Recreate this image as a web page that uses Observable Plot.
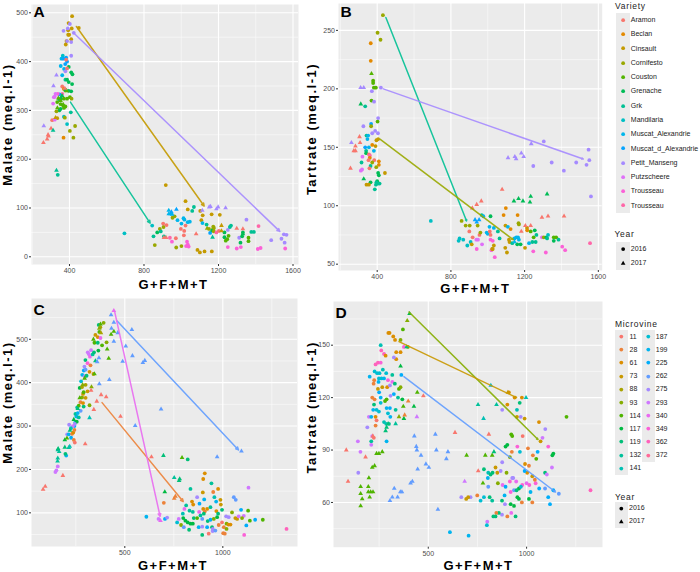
<!DOCTYPE html>
<html><head><meta charset="utf-8">
<script src="https://cdn.jsdelivr.net/npm/d3@7"></script>
<script src="https://cdn.jsdelivr.net/npm/@observablehq/plot@0.6"></script>
<style>
html,body{margin:0;padding:0;background:#fff;}
#page{position:relative;width:700px;height:572px;overflow:hidden;font-family:"Liberation Sans",Arial,sans-serif;}
#page>div.p{position:absolute;}
.axt{letter-spacing:1.5px;}
.lg{position:absolute;white-space:nowrap;font-size:7px;color:#222;line-height:12px;}
.lt{position:absolute;white-space:nowrap;font-size:8.5px;color:#222;letter-spacing:.7px;line-height:12px;}
.lk{position:absolute;background:#ebebeb;}
.lk svg{position:absolute;left:0;top:0;}
</style></head><body><div id="page"></div>
<script>
const varieties=["Aramon","Beclan","Cinsault","Cornifesto","Couston","Grenache","Grk","Mandilaria","Muscat_Alexandrie","Muscat_d_Alexandrie","Petit_Manseng","Putzscheere","Trousseau","Trousseau"];
const varietyColors=["#F8766D","#E38900","#C49A00","#99A800","#53B400","#00BC56","#00C094","#00BFC4","#00B6EB","#06A4FF","#A58AFF","#DF70F8","#FB61D7","#FF66A8"];
const microvines=["11","28","61","73","88","93","114","117","119","132","141","187","199","225","262","275","293","340","349","362","372"];
const microvineColors=["#F8766D","#EC8239","#DB8E00","#C99800","#A9A300","#85AD00","#4FB400","#00BA42","#00BF78","#00C19A","#00C0B3","#00BED2","#00B4EF","#00ADFA","#619CFF","#A58AFF","#CF78FF","#E96AF1","#FB61D7","#FF62BC","#FF6A98"];
const years=["2016","2017"];

const A_circles=[[414,493,2],[395,479,2],[450,469,2],[412,468,2],[393,464,2],[393,455,2],[380,435,2],[409,446,2],[384,442,2],[398,455,2],
[368,463,10],[402,477,10],[391,468,10],[423,459,10],[387,442,10],[409,440,10],[409,412,10],
[364,412,7],[357,406,8],[382,408,9],[353,391,8],[377,395,9],[371,385,8],[387,400,9],[361,372,8],[368,406,9],
[361,349,0],[370,344,1],[378,341,2],[361,334,13],[346,333,9],[337,334,12],[325,334,11],[316,327,11],[321,328,11],[312,314,11],[334,317,4],[345,323,5],[355,324,5],[370,324,4],[387,324,4],[402,327,4],[411,324,3],[409,339,5],[396,340,5],[378,342,5],[352,313,4],[366,310,4],[378,308,4],[370,305,4],[352,303,5],[345,300,5],[330,298,3],[370,287,7],[375,285,3],[334,284,2],[307,280,0],[321,281,11],[378,363,6],[387,363,5],[396,358,5],[414,354,5],[409,378,5],[416,374,5],[396,389,5],[387,386,0],[378,380,10],[382,404,0],
[387,272,7],[430,268,3],[402,258,3],[368,244,1],[421,244,3],[337,168,6],[407,296,6],
[917,147,2],[1023,114,2],[1035,97,2],[1102,94,2],[1115,85,2],[1163,87,2],[1207,86,2],[1108,75,2],[1172,62,3],[1172,58,3],[695,48,7],[844,64,7],[851,42,6],[858,24,3],[871,50,5],[885,57,3],[890,52,6],[905,61,3],[903,68,0],[921,65,0],[907,42,6],[939,39,13],[950,31,12],[971,38,0],[973,19,3],[1001,22,3],[1014,44,0],[1016,53,0],[1023,64,0],[998,57,0],[1001,68,8],[1012,79,8],[1017,76,8],[1035,71,8],[1046,72,8],[980,75,8],[953,80,3],[964,83,3],[1031,31,12],[1026,22,12],[1040,21,12],[1035,25,12],[1087,14,2],[1100,9,2],[1125,11,2],[1164,11,2],[1059,94,6],[1068,102,6],
[1114,69,8],[1136,66,6],[1149,57,3],[1155,49,9],[1166,54,5],[1175,59,3],[1175,52,3],[1189,50,13],[1202,53,0],[1232,50,5],[1250,55,10],[1250,20,12],[1298,17,12],[1320,20,12],[1232,40,5],[1239,33,4],[1254,43,4],[1247,36,4],[1261,61,6],[1267,64,6],[1311,39,10],[1318,29,5],[1327,42,5],[1331,50,5],[1361,39,4],[1361,32,4],[1350,76,10],[1376,51,6],[1390,51,6],[1415,63,13],[1411,16,12],[1426,18,12],[1483,34,10],[1538,37,10],[1555,29,10],[1551,46,10],[1565,45,10],[1558,17,12]];
const A_triangles=[[260,234,0],[280,241,0],[285,250,0],[287,247,0],[301,263,0],[262,268,10],[312,259,6],[330,177,6],[314,350,10],[330,372,10],[352,320,4],[366,312,4],[340,325,4],[385,340,4],[375,345,0],[335,305,4],[360,330,5],[325,285,2],
[1113,95,10],[1150,102,10],[1157,103,10],[1189,98,10],[1198,102,10],[1238,100,10],[933,95,8],[947,92,9],[942,88,9],[933,88,8],[951,87,8],[974,97,9],[1080,47,0],[1216,64,2],[1216,53,2],[1298,58,0],[1331,57,0],[1168,40,6],[907,39,0],[919,39,0],[1139,58,3],[1331,47,5]];
const A_lines=[[437,472,1123,104,2],[427,457,1529,52,10],[405,317,833,69,6]];

const B_circles=[[431,263,3],[402,248,3],[418,242,3],[365,239,1],[365,224,1],[382,201,4],[393,201,4],[420,201,10],[371,198,10],[378,207,4],[378,205,4],[369,190,4],[383,189,10],[335,185,6],[325,168,10],[405,175,10],[402,172,4],[367,170,9],[367,168,3],[389,164,10],[373,162,10],[404,162,10],[396,156,2],[405,157,2],[342,160,6],[351,160,8],[347,157,8],[373,152,1],[391,151,2],[335,150,9],[355,150,8],[382,147,8],[340,147,6],[340,145,5],[355,144,0],[360,143,13],[320,142,11],[360,141,1],[353,139,0],[384,139,0],[409,138,1],[409,135,1],[315,137,6],[373,137,3],[364,134,6],[395,133,3],[358,132,0],[311,130,11],[318,131,11],[442,128,2],[405,128,5],[409,126,5],[400,121,5],[413,119,6],[396,120,6],[404,119,6],[393,118,6],[364,120,5],[342,118,2],[355,118,2],[387,114,6],
[691,87,7],[858,87,3],[880,83,3],[902,83,3],[842,70,7],[847,72,7],[867,71,7],[889,66,7],[900,78,0],[907,69,7],[918,73,0],[913,67,2],[940,63,12],[938,71,11],[947,71,11],[945,83,3],[955,75,0],[960,77,3],[969,67,11],[967,92,6],[976,91,8],[994,77,8],[1000,76,8],[1009,82,8],[1015,91,5],[1011,78,0],[1015,75,0],[1015,71,12],[1027,70,12],[1020,62,12],[1024,63,2],[1033,66,2],[1027,63,2],[1038,56,12],[1033,81,8],[1055,78,6],[1064,72,6],[1086,92,1],[1098,98,1],[1096,83,2],[1095,64,2],[1104,60,2],[1109,82,8],[1124,80,1],[1115,71,2],[1118,69,2],[1133,68,6],[1145,72,8],[1155,73,8],[1164,73,8],[1169,71,8],[1162,92,1],[1167,85,3],[1169,84,3],[1160,67,5],[1178,67,5],[1202,64,2],[1213,81,2],[1214,79,1],[1233,78,4],[1255,79,5],[1224,68,8],[1242,69,6],[1260,69,6],[1249,73,4],[1264,75,6],[1247,61,12],[1294,73,11],[1315,60,12],[1304,73,3],[1318,73,5],[1327,75,7],[1322,72,6],[1358,73,4],[1371,73,4],[1358,70,5],[1384,71,6],[1404,65,12],[1420,62,12],[1555,68,13],
[1304,155,10],[1247,134,10],[1347,137,10],[1413,130,10],[1480,137,10],[1536,135,10],[1551,139,10],[1547,148,10],[1560,108,10]];
const B_triangles=[[255,132,0],[260,154,10],[282,151,0],[273,147,0],[282,147,0],[304,159,0],[307,154,0],[310,201,10],[327,201,10],[311,187,5],[369,213,4],[327,123,5],
[916,98,0],[940,101,0],[965,104,0],[1078,114,0],[1110,141,10],[1147,142,10],[1154,140,10],[1182,145,10],[1195,142,10],[1236,153,10],[1142,104,5],[1167,106,5],[1191,104,5],[1233,108,5],[1229,103,5],[1322,110,5],[1204,83,0],[1233,83,0],[1294,90,0],[1327,91,0],[1414,91,0],[1182,78,0],[931,88,9],[953,88,9],[940,86,9],[1145,69,8]];
const B_lines=[[447,261,885,87,6],[433,200,1518,140,10],[415,157,1138,71,3]];

const C_circles=[[146,194,16],[151,198,16],[158,207,16],[201,232,12],[197,236,8],[206,281,15],[214,281,12],[216,303,15],[226,273,13],[231,282,1],[237,285,2],[243,291,1],[243,300,12],[248,309,11],[253,322,12],[248,328,9],[257,343,9],[265,347,6],[274,355,1],[287,353,2],[282,366,5],[270,388,7],[282,390,4],[287,374,3],[277,403,11],[291,428,13],[283,418,12],[294,437,15],[299,452,8],[311,470,16],[316,466,16],[328,475,16],[322,460,17],[336,465,9],[343,470,8],[365,474,7],[345,492,6],[362,492,8],[384,486,6],[407,493,5],[350,510,3],[362,505,2],[376,503,17],[367,533,8],[392,538,5],[375,528,4],[370,517,6],[325,440,1],[310,445,18],[320,425,2],[340,420,3],[300,430,14],[295,415,15],[305,416,8],[300,395,4],[310,380,3],[290,378,6],[300,365,3],[320,348,5],[290,345,8],[265,320,9],[255,310,7],[245,305,15],[235,300,16],[225,295,10],[260,330,12],[275,335,14],[240,268,1],[245,262,0],
[610,91,12],[672,86,16],[705,86,13],[716,89,15],[767,78,11],[775,86,16],[798,88,7],[821,223,8],[699,123,1],[835,155,9],[908,191,2],[900,178,2],[942,168,9],[976,155,2],[951,148,1],[898,147,3],[1131,158,16],[988,130,3],[990,119,3],[957,136,10],[1056,136,14],[1066,130,14],[869,136,15],[881,121,13],[843,126,2],[849,119,2],[905,131,12],[966,126,12],[900,109,2],[813,117,9],[804,109,17],[796,98,10],[830,105,9],[847,102,9],[879,102,17],[908,103,1],[903,98,8],[920,109,2],[937,113,9],[967,104,2],[996,107,8],[1047,101,5],[1093,107,13],[1129,105,6],[852,88,8],[869,88,6],[886,94,9],[895,86,14],[809,82,7],[821,78,7],[835,75,7],[847,75,7],[787,72,5],[801,67,14],[828,61,8],[877,67,12],[895,68,15],[895,49,8],[928,52,0],[923,81,8],[937,84,13],[920,67,13],[945,67,8],[949,63,15],[948,58,15],[962,59,14],[954,86,5],[971,90,7],[976,98,8],[979,72,1],[996,78,0],[1005,67,1],[1002,53,1],[1010,52,1],[1019,75,5],[1019,63,5],[1029,73,2],[1039,73,2],[1017,92,15],[1030,90,15],[1064,88,3],[1073,86,3],[1081,92,16],[1107,93,16],[1098,88,5],[1120,71,13],[1109,49,18],[1138,82,6],[1165,84,13],[1204,84,6],[1325,63,19]];
const C_triangles=[[83,154,0],[94,161,0],[184,186,0],[298,259,0],[157,219,9],[158,226,9],[158,245,9],[165,241,9],[160,248,8],[194,251,8],[214,250,9],[219,253,10],[194,268,7],[205,272,6],[220,290,8],[240,315,7],[260,340,8],[270,365,6],[285,395,5],[295,410,6],[330,390,5],[320,319,10],[345,420,6],[350,450,8],[340,500,6],[370,525,5],[378,515,4],[376,535,6],[418,456,6],[410,477,6],[444,518,6],[430,511,6],[328,382,0],[379,372,0],[405,367,0],[357,357,0],[342,338,0],[478,322,0],[636,229,0],
[430,556,14],[432,525,14],[444,495,14],[536,522,14],[464,515,14],[505,484,14],[539,462,14],[489,449,14],[592,446,14],[602,451,14],[359,448,14],[368,457,14],[370,397,14],[421,407,14],[685,339,14],[553,301,14],[971,229,14],[1095,242,14],[444,539,14],
[697,232,8],[792,227,6],[752,181,9],[780,178,8],[777,174,8],[704,148,7],[752,133,1],[758,138,1],[444,566,17],[682,82,17]];
const C_lines=[[461,542,1080,245,14],[384,354,798,126,1],[449,562,680,92,17]];

const D_circles=[[258,150,10],[261,147,19],[275,145,19],[283,144,2],[297,157,2],[303,157,2],[322,155,2],[331,153,2],[359,153,5],[371,159,6],[376,149,18],[396,149,5],[337,146,2],[359,146,2],[337,142,2],[325,143,15],[232,139,19],[244,140,19],[258,140,18],
[202,132,12],[227,135,11],[240,134,11],[252,134,11],[269,136,10],[286,134,11],[317,133,9],[363,133,13],[262,131,11],[249,131,11],[225,130,1],[222,128,1],[247,129,12],[275,131,12],[295,130,18],[317,129,17],[291,126,2],[305,127,15],[330,128,8],[351,125,6],[359,126,5],[244,125,3],[266,126,3],[258,120,12],[250,123,13],[227,119,1],[215,120,1],[280,118,6],[288,119,6],[308,121,15],[325,122,13],[346,120,9],[368,119,7],[258,117,11],[224,116,8],[220,113,12],[237,113,11],[249,112,11],[288,114,12],[305,114,13],[334,113,9],[295,111,11],[307,109,12],[198,109,16],[210,109,12],[190,103,15],[232,109,2],[237,107,0],[232,104,1],[275,106,10],[286,105,10],[300,105,9],[215,98,16],[223,97,0],[210,95,9],[210,93,16],[288,95,12],[142,95,16],[155,89,16],[144,77,15],
[1164,65,14],[1119,59,13],[1110,63,13],[1136,67,13],[1064,68,13],[1094,68,14],[1020,66,12],[1325,67,19],[1203,109,6],[1063,106,2],[1095,102,15],[1071,95,3],[1081,97,16],[1110,92,18],[1131,87,7],[1136,88,7],[1129,80,16],[1094,77,8],[1103,76,16],[1056,89,13],[1049,85,6],[1007,91,1],[980,98,0],[922,99,6],[927,98,6],[893,92,7],[902,93,7],[953,92,18],[925,89,1],[915,86,5],[966,89,11],[1032,87,1],[992,82,2],[1012,81,1],[1003,77,2],[1029,75,3],[990,78,13],[1046,71,18],[1042,73,1],[1000,71,17],[1014,70,18],[978,70,18],[947,72,17],[927,74,15],[898,77,5],[876,83,15],[868,78,15],[842,80,3],[851,77,3],[827,77,8],[805,77,10],[817,76,8],[783,79,8],[803,74,12],[854,71,5],[878,70,17],[915,72,18],[932,74,15],[893,69,13],[936,67,14],[961,68,7],[971,69,11],[949,67,8],[919,66,18],[888,64,12],[953,63,7],[961,62,7],[1012,62,7],[976,60,1],[1029,60,1],[875,61,8],[825,61,9],[812,63,8],[805,69,14],[766,61,11],[783,63,11],[749,64,1],[715,63,15],[703,63,3],[693,62,3],[668,63,15],[610,43,12],[705,41,12],[944,52,8],[902,52,1],[919,59,7],[936,58,7],[890,59,15],[922,54,17],[875,53,15],[859,54,8],[846,54,1],[842,52,8],[831,52,8],[800,49,16],[798,47,11],[876,113,15],[902,116,2],[976,120,2],[910,123,2],[951,113,10],[965,117,8],[951,109,3],[970,109,15],[990,108,3],[939,120,2]];
const D_triangles=[[156,58,6],[164,62,6],[156,65,6],[156,69,6],[195,69,6],[198,74,6],[195,66,6],[207,66,6],[219,66,6],[202,63,6],[215,80,6],[227,81,6],[237,88,6],[249,88,6],[266,89,6],[283,101,8],[288,103,8],[296,105,8],[334,105,9],[83,90,0],[92,72,0],[181,86,0],[218,98,0],[636,100,0],[808,99,0],[754,78,0],[685,72,16],
[359,138,7],[351,109,5],[376,108,7],[373,115,6],[380,110,1],[398,118,1],[427,115,7],[444,123,6],[442,109,16],[475,121,0],[393,164,5],[405,168,7],[390,149,8],
[305,61,14],[317,63,14],[327,68,14],[344,63,14],[358,66,14],[366,66,14],[410,71,14],[419,72,14],[429,98,14],[439,92,14],[442,90,14],[463,87,14],[446,79,14],[488,82,14],[503,80,14],[536,99,14],[541,90,14],[592,85,14],[600,89,14],[549,56,14],
[753,116,9],[847,116,9],[781,108,10],[818,127,11],[997,120,10],[695,87,6],[790,87,6],[825,87,6],[834,89,8],[778,71,6],[905,123,3]];
const D_lines=[[402,169,1058,96,5],[351,152,949,120,3],[376,132,1147,66,14]];

const ticks1600=[400,800,1200,1600], minor1600=[200,600,1000,1400];
const ticks500=[500,1000], minor500=[250,750,1250];
const ticksMalateA=[0,100,200,300,400,500], minorMalateA=[50,150,250,350,450];
const ticksTartB=[50,100,150,200,250], minorTartB=[75,125,175,225];
const ticksMalateC=[100,200,300,400,500], minorMalateC=[50,150,250,350,450,550];
const ticksTartD=[60,90,120,150], minorTartD=[45,75,105,135,165];

function panel(o){
  const c={type:"ordinal",domain:d3.range(o.colors.length),range:o.colors};
  const plot=Plot.plot({
    width:o.w,height:o.h,marginLeft:o.m[0],marginRight:o.m[1],marginTop:o.m[2],marginBottom:o.m[3],
    style:{background:"transparent",overflow:"visible",fontFamily:'"Liberation Sans",Arial,sans-serif'},
    x:{domain:o.xd,label:null},y:{domain:o.yd,label:null},color:c,
    marks:[
      Plot.frame({fill:"#ebebeb",stroke:null}),
      Plot.ruleX(o.xminor,{stroke:"#fff",strokeWidth:.5}),
      Plot.ruleY(o.yminor,{stroke:"#fff",strokeWidth:.5}),
      Plot.ruleX(o.xticks,{stroke:"#fff",strokeWidth:1.1}),
      Plot.ruleY(o.yticks,{stroke:"#fff",strokeWidth:1.1}),
      Plot.axisX(o.xticks,{tickSize:2,tickPadding:1.5,fontSize:7,color:"#4d4d4d",stroke:"#333",label:null,tickFormat:d=>String(d)}),
      Plot.axisY(o.yticks,{tickSize:2,tickPadding:1.5,fontSize:7,color:"#4d4d4d",stroke:"#333",label:null,tickFormat:d=>String(d)}),
      Plot.dot(o.circles,{x:"0",y:"1",fill:"2",r:1.9,symbol:"circle",stroke:"none"}),
      Plot.dot(o.triangles,{x:"0",y:"1",fill:"2",r:1.75,symbol:"triangle",stroke:"none"}),
      Plot.arrow(o.lines,{x1:"0",y1:"1",x2:"2",y2:"3",stroke:"4",strokeWidth:1.5,headLength:o.head,headAngle:50,opacity:.9}),
      Plot.text([o.tag],{frameAnchor:"top-left",dx:o.tagD[0],dy:o.tagD[1],fontSize:15.5,fontWeight:"bold",fill:"#000",lineAnchor:"top"}),
      Plot.text(["G+F+M+T"],{frameAnchor:"bottom",dx:o.xt[0],dy:o.xt[1],fontSize:13,fontWeight:"bold",fill:"#000",lineAnchor:"middle",className:"axt"}),
      Plot.text([o.ylabel],{frameAnchor:"left",dx:o.yt[0],dy:o.yt[1],rotate:-90,textAnchor:"middle",lineAnchor:"middle",fontSize:13,fontWeight:"bold",fill:"#000",className:"axt"})
    ]
  });
  const d=document.createElement("div");d.className="p";d.style.left=o.l+"px";d.style.top=o.t+"px";d.appendChild(plot);
  document.getElementById("page").appendChild(d);
}
panel({tag:"A",head:3,l:0,t:0,w:300,h:290,m:[31,2,4,26],xd:[196,1629.5],yd:[-15.8,517],xticks:ticks1600,xminor:minor1600,yticks:ticksMalateA,yminor:minorMalateA,circles:A_circles,triangles:A_triangles,lines:A_lines,colors:varietyColors,ylabel:"Malate (meq.l-1)",tagD:[2,1],xt:[8.5,20],yt:[-23.5,-10]});
panel({tag:"B",head:1.5,l:300,t:0,w:305,h:290,m:[38,3.3,3,20],xd:[190,1621],yd:[44.6,273],xticks:ticks1600,xminor:minor1600,yticks:ticksTartB,yminor:minorTartB,circles:B_circles,triangles:B_triangles,lines:B_lines,colors:varietyColors,ylabel:"Tartrate (meq.l-1)",tagD:[2,2],xt:[5,18],yt:[-26.5,-8]});
panel({tag:"C",head:3,l:0,t:290,w:300,h:282,m:[31,3,8,26],xd:[24,1381],yd:[22.4,594],xticks:ticks500,xminor:minor500,yticks:ticksMalateC,yminor:minorMalateC,circles:C_circles,triangles:C_triangles,lines:C_lines,colors:microvineColors,ylabel:"Malate (meq.l-1)",tagD:[2,5],xt:[8.5,19.5],yt:[-23.5,-20]});
panel({tag:"D",head:1.5,l:300,t:290,w:305,h:282,m:[33,3,11,25.3],xd:[18,1386],yd:[34.4,175],xticks:ticks500,xminor:minor500,yticks:ticksTartD,yminor:minorTartD,circles:D_circles,triangles:D_triangles,lines:D_lines,colors:microvineColors,ylabel:"Tartrate (meq.l-1)",tagD:[2,5],xt:[10.5,19],yt:[-22,-17]});

const page=document.getElementById("page");
function text(cls,x,cy,s){const e=document.createElement("div");e.className=cls;e.textContent=s;e.style.left=x+"px";e.style.top=(cy-6)+"px";page.appendChild(e);}
function key(x,cy,w,h,color,shape){
  const e=document.createElement("div");e.className="lk";e.style.left=x+"px";e.style.top=(cy-h/2)+"px";e.style.width=w+"px";e.style.height=h+"px";
  const cx=w/2,cyy=h/2;
  e.innerHTML=`<svg width="${w}" height="${h}">`+(shape==="t"?`<path d="M${cx},${cyy-2.2}L${cx+2.3},${cyy+1.8}L${cx-2.3},${cyy+1.8}Z" fill="${color}"/>`:`<circle cx="${cx}" cy="${cyy}" r="1.9" fill="${color}"/>`)+`</svg>`;
  page.appendChild(e);
}
text("lt",615,6,"Variety");
varieties.forEach((v,i)=>{const cy=20+i*14.28;key(616,cy,14.3,14.3,varietyColors[i],"c");text("lg",630.8,cy,v);});
text("lt",614.5,234,"Year");
years.forEach((y,i)=>{const cy=248.7+i*14;key(616,cy,14.3,14.1,"#000",i?"t":"c");text("lg",630.8,cy,y);});
text("lt",615,323.5,"Microvine");
microvines.forEach((v,i)=>{const col=i<11?0:1,r=col?i-11:i,cy=336.7+r*13.17;key(col?642:615,cy,12.6,13.2,microvineColors[i],"c");text("lg",col?655.8:629.5,cy,v);});
text("lt",615,496.7,"Year");
years.forEach((y,i)=>{const cy=508.3+i*13;key(615,cy,12.6,13.1,"#000",i?"t":"c");text("lg",629,cy,y);});
</script></body></html>
